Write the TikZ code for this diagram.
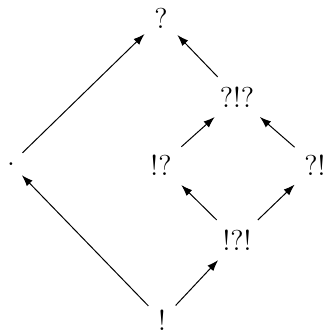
\documentclass[tikz,border=0pt]{standalone}
\usetikzlibrary{arrows.meta}
\begin{document}
\begin{tikzpicture}[x=0.4pt,y=-0.4pt,
  lbl/.style={inner sep=3pt,font=\fontsize{11.5}{13}\selectfont},
  arr/.style={-{Latex[length=4.5pt,width=3.2pt]},line width=0.4pt,shorten >=1pt,shorten <=1pt}]
\useasboundingbox (0,0) rectangle (322,334);
\node[lbl] (q) at (161,18) {?};
\node[lbl] (qeq) at (237,97) {?!?};
\node[lbl] (eq) at (161,165) {!?};
\node[lbl] (qe) at (315,165) {?!};
\node[lbl] (eqe) at (237,240) {!?!};
\node[lbl] (e) at (162,320) {!};
\node[lbl] (d) at (11,164) {.};
\draw[arr] (d) -- (q);
\draw[arr] (qeq) -- (q);
\draw[arr] (eq) -- (qeq);
\draw[arr] (qe) -- (qeq);
\draw[arr] (eqe) -- (eq);
\draw[arr] (eqe) -- (qe);
\draw[arr] (e) -- (eqe);
\draw[arr] (e) -- (d);
\end{tikzpicture}
\end{document}
